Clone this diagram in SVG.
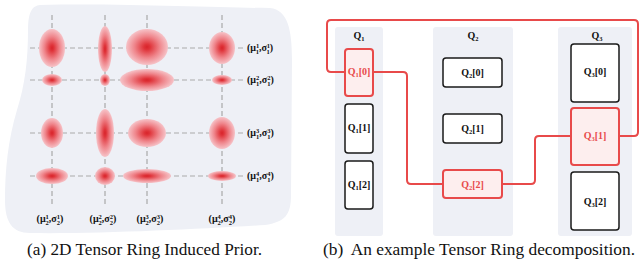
<svg xmlns="http://www.w3.org/2000/svg" width="640" height="263" viewBox="0 0 640 263">
<style>
.bg{fill:#eef0f6}
.grid{stroke:#a9a9a9;stroke-width:1.2;stroke-dasharray:5 3;fill:none}
.lab{font-family:"Liberation Serif","DejaVu Serif",serif;font-weight:bold;font-size:10px;fill:#111}
.s{font-size:6.5px}
.cap{font-family:"Liberation Serif","Times New Roman",serif;font-size:17px;fill:#111}
.box{fill:#fff;stroke:#1a1a1a;stroke-width:1.5}
.rbox{fill:#fdeeee;stroke:#e84a4a;stroke-width:2}
.ring{fill:none;stroke:#e84a4a;stroke-width:2}
.rt{fill:#e84a4a}
</style>
<defs>
<radialGradient id="g">
<stop offset="0" stop-color="#d8242b"/>
<stop offset="0.15" stop-color="#df343a"/>
<stop offset="0.6" stop-color="#ef858b"/>
<stop offset="1" stop-color="#f6c3c8"/>
</radialGradient>
</defs>

<!-- Panel (a) -->
<path class="bg" d="M40,5 C120,3 220,8 270,8 C288,10 292,30 292,60 L291,195 C291,215 285,222 265,225 C200,229 100,234 30,233 C12,233 5,222 5,200 C5,170 8,140 17,110 C25,85 28,60 28,30 C28,12 32,6 40,5 Z"/>
<g id="grid">
<line class="grid" x1="52" y1="15" x2="52" y2="205"/>
<line class="grid" x1="105" y1="15" x2="105" y2="205"/>
<line class="grid" x1="147" y1="15" x2="147" y2="205"/>
<line class="grid" x1="222" y1="15" x2="222" y2="205"/>
<line class="grid" x1="30" y1="48" x2="243" y2="48"/>
<line class="grid" x1="30" y1="80" x2="243" y2="80"/>
<line class="grid" x1="30" y1="133" x2="243" y2="133"/>
<line class="grid" x1="30" y1="176" x2="243" y2="176"/>
</g>
<g id="gaussians" fill="url(#g)">
<ellipse cx="52" cy="48" rx="13" ry="19"/>
<ellipse cx="105" cy="49" rx="7" ry="23"/>
<ellipse cx="147" cy="47" rx="21" ry="18"/>
<ellipse cx="222" cy="48" rx="13" ry="16"/>
<ellipse cx="52" cy="80" rx="10" ry="6"/>
<ellipse cx="105" cy="80" rx="5" ry="6"/>
<ellipse cx="147" cy="80" rx="27" ry="11"/>
<ellipse cx="222" cy="80" rx="10" ry="5"/>
<ellipse cx="52" cy="133" rx="11" ry="15"/>
<ellipse cx="105" cy="133" rx="9" ry="24"/>
<ellipse cx="147" cy="133" rx="19" ry="14"/>
<ellipse cx="222" cy="133" rx="13" ry="16"/>
<ellipse cx="52" cy="176" rx="16" ry="8"/>
<ellipse cx="105" cy="176" rx="10" ry="9"/>
<ellipse cx="147" cy="176" rx="24" ry="7"/>
<ellipse cx="222" cy="176" rx="14" ry="5"/>
</g>
<g id="row-labels" class="lab">
<text x="247" y="51">(μ<tspan class="s" dy="-3.5">1</tspan><tspan class="s" dx="-3.25" dy="6">1</tspan><tspan dy="-2.5">,σ</tspan><tspan class="s" dy="-3.5">1</tspan><tspan class="s" dx="-3.25" dy="6">1</tspan><tspan dy="-2.5">)</tspan></text>
<text x="247" y="83">(μ<tspan class="s" dy="-3.5">2</tspan><tspan class="s" dx="-3.25" dy="6">1</tspan><tspan dy="-2.5">,σ</tspan><tspan class="s" dy="-3.5">2</tspan><tspan class="s" dx="-3.25" dy="6">1</tspan><tspan dy="-2.5">)</tspan></text>
<text x="247" y="136">(μ<tspan class="s" dy="-3.5">3</tspan><tspan class="s" dx="-3.25" dy="6">1</tspan><tspan dy="-2.5">,σ</tspan><tspan class="s" dy="-3.5">3</tspan><tspan class="s" dx="-3.25" dy="6">1</tspan><tspan dy="-2.5">)</tspan></text>
<text x="247" y="179">(μ<tspan class="s" dy="-3.5">4</tspan><tspan class="s" dx="-3.25" dy="6">1</tspan><tspan dy="-2.5">,σ</tspan><tspan class="s" dy="-3.5">4</tspan><tspan class="s" dx="-3.25" dy="6">1</tspan><tspan dy="-2.5">)</tspan></text>
</g>
<g id="col-labels" class="lab" text-anchor="middle">
<text x="50" y="222">(μ<tspan class="s" dy="-3.5">1</tspan><tspan class="s" dx="-3.25" dy="6">2</tspan><tspan dy="-2.5">,σ</tspan><tspan class="s" dy="-3.5">1</tspan><tspan class="s" dx="-3.25" dy="6">2</tspan><tspan dy="-2.5">)</tspan></text>
<text x="103" y="222">(μ<tspan class="s" dy="-3.5">2</tspan><tspan class="s" dx="-3.25" dy="6">2</tspan><tspan dy="-2.5">,σ</tspan><tspan class="s" dy="-3.5">2</tspan><tspan class="s" dx="-3.25" dy="6">2</tspan><tspan dy="-2.5">)</tspan></text>
<text x="150" y="222">(μ<tspan class="s" dy="-3.5">3</tspan><tspan class="s" dx="-3.25" dy="6">2</tspan><tspan dy="-2.5">,σ</tspan><tspan class="s" dy="-3.5">3</tspan><tspan class="s" dx="-3.25" dy="6">2</tspan><tspan dy="-2.5">)</tspan></text>
<text x="222" y="222">(μ<tspan class="s" dy="-3.5">4</tspan><tspan class="s" dx="-3.25" dy="6">2</tspan><tspan dy="-2.5">,σ</tspan><tspan class="s" dy="-3.5">4</tspan><tspan class="s" dx="-3.25" dy="6">2</tspan><tspan dy="-2.5">)</tspan></text>
</g>

<!-- Panel (b) -->
<g id="col-Q1">
<rect class="bg" x="335" y="27" width="48" height="209" rx="3"/>
<text class="lab" x="359" y="39" text-anchor="middle">Q<tspan class="s" dy="2">1</tspan></text>
</g>
<g id="col-Q2">
<rect class="bg" x="433" y="27" width="80" height="209" rx="3"/>
<text class="lab" x="473" y="39" text-anchor="middle">Q<tspan class="s" dy="2">2</tspan></text>
</g>
<g id="col-Q3">
<rect class="bg" x="558" y="27" width="74" height="209" rx="3"/>
<text class="lab" x="597" y="39" text-anchor="middle">Q<tspan class="s" dy="2">3</tspan></text>
</g>

<g id="connectors">
<path class="ring" d="M345,72 H331 Q327,72 327,68 V24 Q327,20 331,20 H634 Q638,20 638,24 V132 Q638,136 634,136 H619"/>
<path class="ring" d="M571,136 H539 Q535,136 535,140 V180 Q535,184 531,184 H502"/>
<path class="ring" d="M443,184 H411 Q407,184 407,180 V76 Q407,72 403,72 H373"/>
</g>

<g id="Q1-0"><rect class="rbox" x="345" y="49" width="28" height="47" rx="3"/><text class="lab rt" x="359" y="75" text-anchor="middle">Q<tspan class="s" dy="2">1</tspan><tspan dy="-2">[0]</tspan></text></g>
<g id="Q1-1"><rect class="box" x="345" y="104" width="28" height="49" rx="3"/><text class="lab" x="359" y="131" text-anchor="middle">Q<tspan class="s" dy="2">1</tspan><tspan dy="-2">[1]</tspan></text></g>
<g id="Q1-2"><rect class="box" x="345" y="161" width="28" height="48" rx="3"/><text class="lab" x="359" y="188" text-anchor="middle">Q<tspan class="s" dy="2">1</tspan><tspan dy="-2">[2]</tspan></text></g>
<g id="Q2-0"><rect class="box" x="443" y="58" width="59" height="29" rx="3"/><text class="lab" x="472.5" y="75.5" text-anchor="middle">Q<tspan class="s" dy="2">2</tspan><tspan dy="-2">[0]</tspan></text></g>
<g id="Q2-1"><rect class="box" x="443" y="114" width="59" height="29" rx="3"/><text class="lab" x="472.5" y="131.5" text-anchor="middle">Q<tspan class="s" dy="2">2</tspan><tspan dy="-2">[1]</tspan></text></g>
<g id="Q2-2"><rect class="rbox" x="443" y="170" width="59" height="28" rx="3"/><text class="lab rt" x="472.5" y="187.5" text-anchor="middle">Q<tspan class="s" dy="2">2</tspan><tspan dy="-2">[2]</tspan></text></g>
<g id="Q3-0"><rect class="box" x="571" y="44" width="48" height="58" rx="3"/><text class="lab" x="595" y="75" text-anchor="middle">Q<tspan class="s" dy="2">3</tspan><tspan dy="-2">[0]</tspan></text></g>
<g id="Q3-1"><rect class="rbox" x="571" y="108" width="48" height="57" rx="3"/><text class="lab rt" x="595" y="139" text-anchor="middle">Q<tspan class="s" dy="2">3</tspan><tspan dy="-2">[1]</tspan></text></g>
<g id="Q3-2"><rect class="box" x="571" y="172" width="48" height="58" rx="3"/><text class="lab" x="595" y="205" text-anchor="middle">Q<tspan class="s" dy="2">3</tspan><tspan dy="-2">[2]</tspan></text></g>

<text class="cap" x="27" y="255" textLength="235" lengthAdjust="spacingAndGlyphs">(a) 2D Tensor Ring Induced Prior.</text>
<text class="cap" x="323" y="255" textLength="312" lengthAdjust="spacingAndGlyphs">(b)<tspan dx="4"> An example Tensor Ring decomposition.</tspan></text>
</svg>
